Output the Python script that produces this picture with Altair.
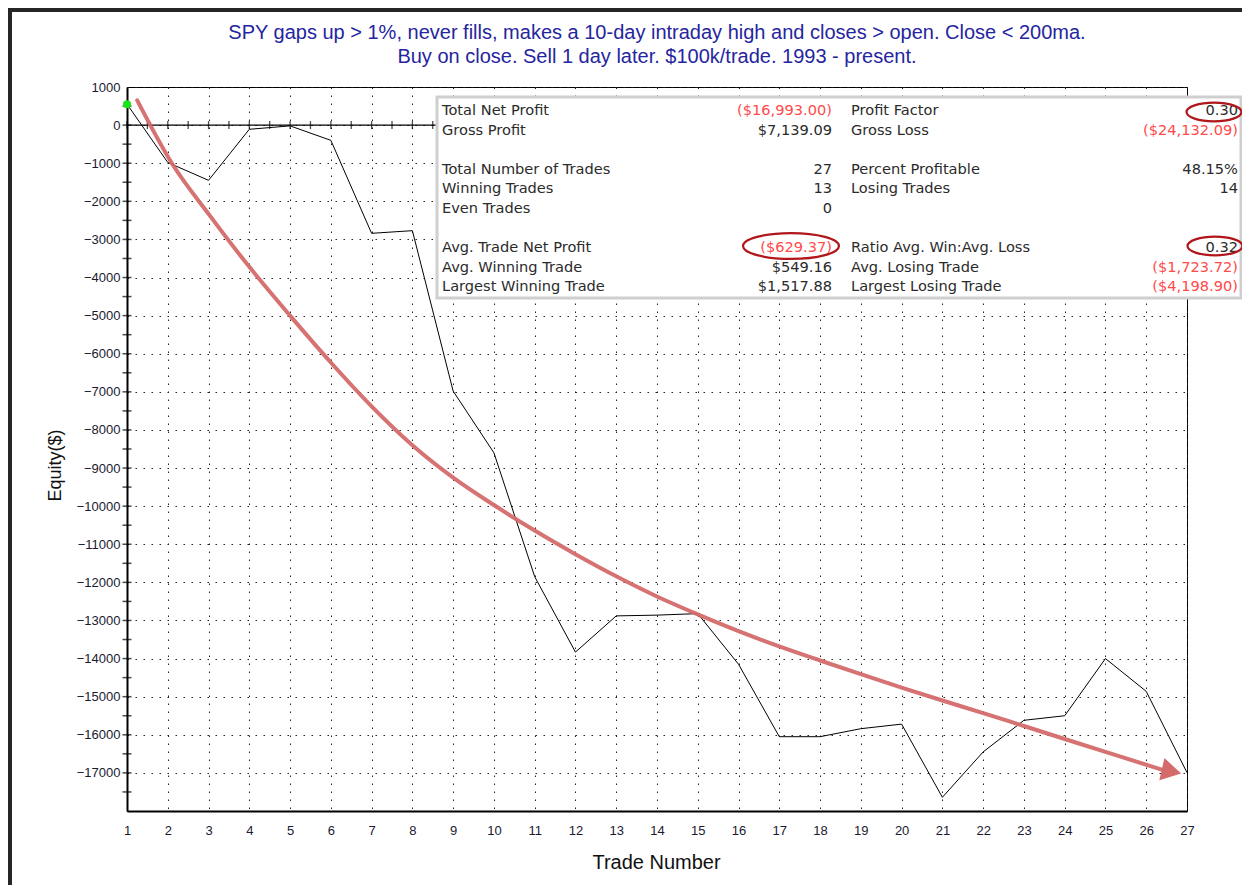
import altair as alt
import pandas as pd

# ---------------- data ----------------
trades = [1, 2, 3, 4, 5, 6, 7, 8, 9, 10, 11, 12, 13, 14, 15, 16, 17, 18, 19, 20,
          21, 22, 23, 24, 25, 26, 27]
equity = [550, -980, -1450, -110, -20, -400, -2840, -2770, -6980, -8600,
          -11850, -13830, -12880, -12860, -12820, -14150, -16050, -16050,
          -15840, -15720, -17640, -16450, -15620, -15500, -14000, -14860, -16993]

y_tick_values = [1000, 0, -1000, -2000, -3000, -4000, -5000, -6000, -7000, -8000,
                 -9000, -10000, -11000, -12000, -13000, -14000, -15000, -16000, -17000]
y_minor_ticks = [500, 0, -500, -1000, -1500, -2000, -2500, -3000, -3500, -4000,
                 -4500, -5000, -5500, -6000, -6500, -7000, -7500, -8000, -8500,
                 -9000, -9500, -10000, -10500, -11000, -11500, -12000, -12500,
                 -13000, -13500, -14000, -14500, -15000, -15500, -16000, -16500,
                 -17000, -17500]
zero_axis_ticks = [t / 2 for t in range(2, 55)]

# annotation arrow (hand-drawn trend arrow), in trade / equity units
arrow_x = [1.25, 2.1, 3, 4, 5, 6, 7, 8, 9, 10, 11, 12, 13, 14, 15, 16, 17,
           18, 19, 20, 21, 22, 23, 24, 25, 26.4]
arrow_y = [650, -1000, -2330, -3720, -5000, -6230, -7380, -8400, -9250, -9970,
           -10640, -11260, -11840, -12370, -12840, -13280, -13680, -14050, -14410,
           -14760, -15100, -15430, -15770, -16110, -16450, -16920]
arrow_head_x = [26.62]
arrow_head_y = [-16960]

# statistics table
stat_rows = [0, 1, 3, 4, 5, 7, 8, 9]
left_labels = ["Total Net Profit", "Gross Profit", "Total Number of Trades",
               "Winning Trades", "Even Trades", "Avg. Trade Net Profit",
               "Avg. Winning Trade", "Largest Winning Trade"]
left_values = ["($16,993.00)", "$7,139.09", "27", "13", "0", "($629.37)",
               "$549.16", "$1,517.88"]
right_labels = ["Profit Factor", "Gross Loss", "Percent Profitable", "Losing Trades",
                "", "Ratio Avg. Win:Avg. Loss", "Avg. Losing Trade",
                "Largest Losing Trade"]
right_values = ["0.30", "($24,132.09)", "48.15%", "14", "", "0.32", "($1,723.72)",
                "($4,198.90)"]

title_lines = [
    "SPY gaps up > 1%, never fills, makes a 10-day intraday high and closes > open. Close < 200ma.",
    "Buy on close. Sell 1 day later. $100k/trade. 1993 - present.",
]
title_rows = [0, 1]

# ---------------- layout ----------------
W, H = 1060, 724
PAD = {"left": 119, "top": 79, "right": 55, "bottom": 74}
xs = alt.Scale(domain=[1, 27], nice=False, zero=False)
ys = alt.Scale(domain=[-18000, 1000], nice=False, zero=False)
row_scale = alt.Scale(domain=[0, 10], range=[24, 220], nice=False, zero=False)
title_scale = alt.Scale(domain=[0, 1], range=[-54, -30], nice=False, zero=False)
AXFONT = "Liberation Sans"
BOXFONT = "DejaVu Sans"

eq_df = pd.DataFrame({"trade": trades, "equity": equity})
one = pd.DataFrame({"a": [0]})

equity_line = alt.Chart(eq_df).mark_line(color="black", strokeWidth=1).encode(
    x=alt.X("trade:Q", scale=xs, axis=alt.Axis(
        values=trades, format="d", title="Trade Number", grid=True,
        gridDash=[1.5, 6.5], gridColor="#222", gridWidth=1,
        tickSize=0, labelPadding=13, labelFont=AXFONT, labelFontSize=13,
        labelColor="#1a1a30", domainColor="black", domainWidth=2,
        titleFont=AXFONT, titleFontSize=20, titleFontWeight="normal",
        titleColor="#111", titleX=529, titleY=51, titleBaseline="middle",
        titleAlign="center", labelFlush=False)),
    y=alt.Y("equity:Q", scale=ys, axis=alt.Axis(
        values=y_tick_values, format="d", title="Equity($)", grid=True,
        gridDash=[1.5, 6.5], gridColor="#222", gridWidth=1,
        tickSize=0, labelPadding=7, labelFont=AXFONT, labelFontSize=13,
        labelColor="#1a1a30", domainColor="black", domainWidth=2,
        titleFont=AXFONT, titleFontSize=18, titleFontWeight="normal",
        titleColor="#111", titleX=-72, titleY=378, titleAngle=270,
        titleBaseline="middle", titleAlign="center")),
)

zero_rule = alt.Chart(pd.DataFrame({"z": [0]})).mark_rule(
    color="black", strokeWidth=1.3).encode(y=alt.Y("z:Q", scale=ys, axis=None))

zero_ticks = alt.Chart(pd.DataFrame({"t": zero_axis_ticks})).transform_calculate(
    zy="0").mark_tick(orient="vertical", size=8, thickness=1.3, color="black").encode(
    x=alt.X("t:Q", scale=xs, axis=None), y=alt.Y("zy:Q", scale=ys, axis=None))

y_ticks = alt.Chart(pd.DataFrame({"m": y_minor_ticks})).transform_calculate(
    mx="1").mark_tick(orient="horizontal", size=9, thickness=1.5, color="black").encode(
    y=alt.Y("m:Q", scale=ys, axis=None), x=alt.X("mx:Q", scale=xs, axis=None))

box = alt.Chart(one).mark_rect(fill="white", stroke="#cfcfcf", strokeWidth=3).encode(
    x=alt.value(310), x2=alt.value(1114), y=alt.value(10), y2=alt.value(211))


def text_layer(labels, rows, align, xpos, red=None):
    df = pd.DataFrame({"txt": labels, "row": rows})
    base = alt.Chart(df)
    color = "#2b2b2b"
    if red is True:
        base = base.transform_filter("indexof(datum.txt, '(') == 0")
        color = "#ff4a4a"
    elif red is False:
        base = base.transform_filter("indexof(datum.txt, '(') != 0")
    return base.mark_text(align=align, baseline="middle", font=BOXFONT,
                          fontSize=14.6, color=color).encode(
        x=alt.value(xpos),
        y=alt.Y("row:Q", scale=row_scale, axis=None),
        text="txt:N",
    )


t1 = text_layer(left_labels, stat_rows, "left", 315)
t2a = text_layer(left_values, stat_rows, "right", 705, red=False)
t2b = text_layer(left_values, stat_rows, "right", 705, red=True)
t3 = text_layer(right_labels, stat_rows, "left", 724)
t4a = text_layer(right_values, stat_rows, "right", 1111, red=False)
t4b = text_layer(right_values, stat_rows, "right", 1111, red=True)

title_text = alt.Chart(pd.DataFrame({"txt": title_lines, "row": title_rows})).mark_text(
    align="center", baseline="middle", font=AXFONT, fontSize=20,
    color="#2525a0").encode(
    x=alt.value(W / 2),
    y=alt.Y("row:Q", scale=title_scale, axis=None),
    text="txt:N",
)

ell_small = "M -1 0 A 1 0.34 0 1 1 1 0 A 1 0.34 0 1 1 -1 0 Z"
ell_big = "M -1 0 A 1 0.27 0 1 1 1 0 A 1 0.27 0 1 1 -1 0 Z"
e1 = alt.Chart(one).mark_point(shape=ell_small, size=3025, filled=False,
                               stroke="#b0161a", strokeWidth=2.2, opacity=1).encode(
    x=alt.value(1087), y=alt.value(25))
e2 = alt.Chart(one).mark_point(shape=ell_small, size=3025, filled=False,
                               stroke="#b0161a", strokeWidth=2.2, opacity=1).encode(
    x=alt.value(1088), y=alt.value(159))
e3 = alt.Chart(one).mark_point(shape=ell_big, size=9216, filled=False,
                               stroke="#b0161a", strokeWidth=2.2, opacity=1).encode(
    x=alt.value(664), y=alt.value(159))

arrow_df = pd.DataFrame({"ax": arrow_x, "ay": arrow_y})
arrow = alt.Chart(arrow_df).mark_line(
    color="#d46a6a", strokeWidth=4, interpolate="monotone", opacity=0.95,
    strokeCap="round").encode(
    x=alt.X("ax:Q", scale=xs, axis=None), y=alt.Y("ay:Q", scale=ys, axis=None))
head = alt.Chart(pd.DataFrame({"hx": arrow_head_x, "hy": arrow_head_y})).mark_point(
    shape="triangle-right", filled=True, size=520, angle=13, color="#d46a6a",
    opacity=1).encode(
    x=alt.X("hx:Q", scale=xs, axis=None), y=alt.Y("hy:Q", scale=ys, axis=None))

start_dot = alt.Chart(eq_df).transform_filter("datum.trade == 1").mark_circle(
    color="#19e619", size=64, opacity=1).encode(
    x=alt.X("trade:Q", scale=xs, axis=None), y=alt.Y("equity:Q", scale=ys, axis=None))

frame_left = alt.Chart(one).mark_rule(color="#262626", strokeWidth=4).encode(
    x=alt.value(-117), y=alt.value(-79), y2=alt.value(H + 74))
frame_top = alt.Chart(one).mark_rule(color="#262626", strokeWidth=4).encode(
    x=alt.value(-119), x2=alt.value(W + 55), y=alt.value(-77))

chart = alt.layer(
    equity_line, zero_rule, zero_ticks, box, t1, t2a, t2b, t3, t4a, t4b,
    title_text, e1, e2, e3, arrow, head, y_ticks, start_dot, frame_left, frame_top,
).resolve_scale(x="independent", y="independent").properties(
    width=W, height=H,
    autosize=alt.AutoSizeParams(type="none"),
    padding=PAD,
    background="white",
).configure_view(stroke="black", strokeWidth=1)

chart.save("out.html", embed_options={"renderer": "svg", "actions": False})
